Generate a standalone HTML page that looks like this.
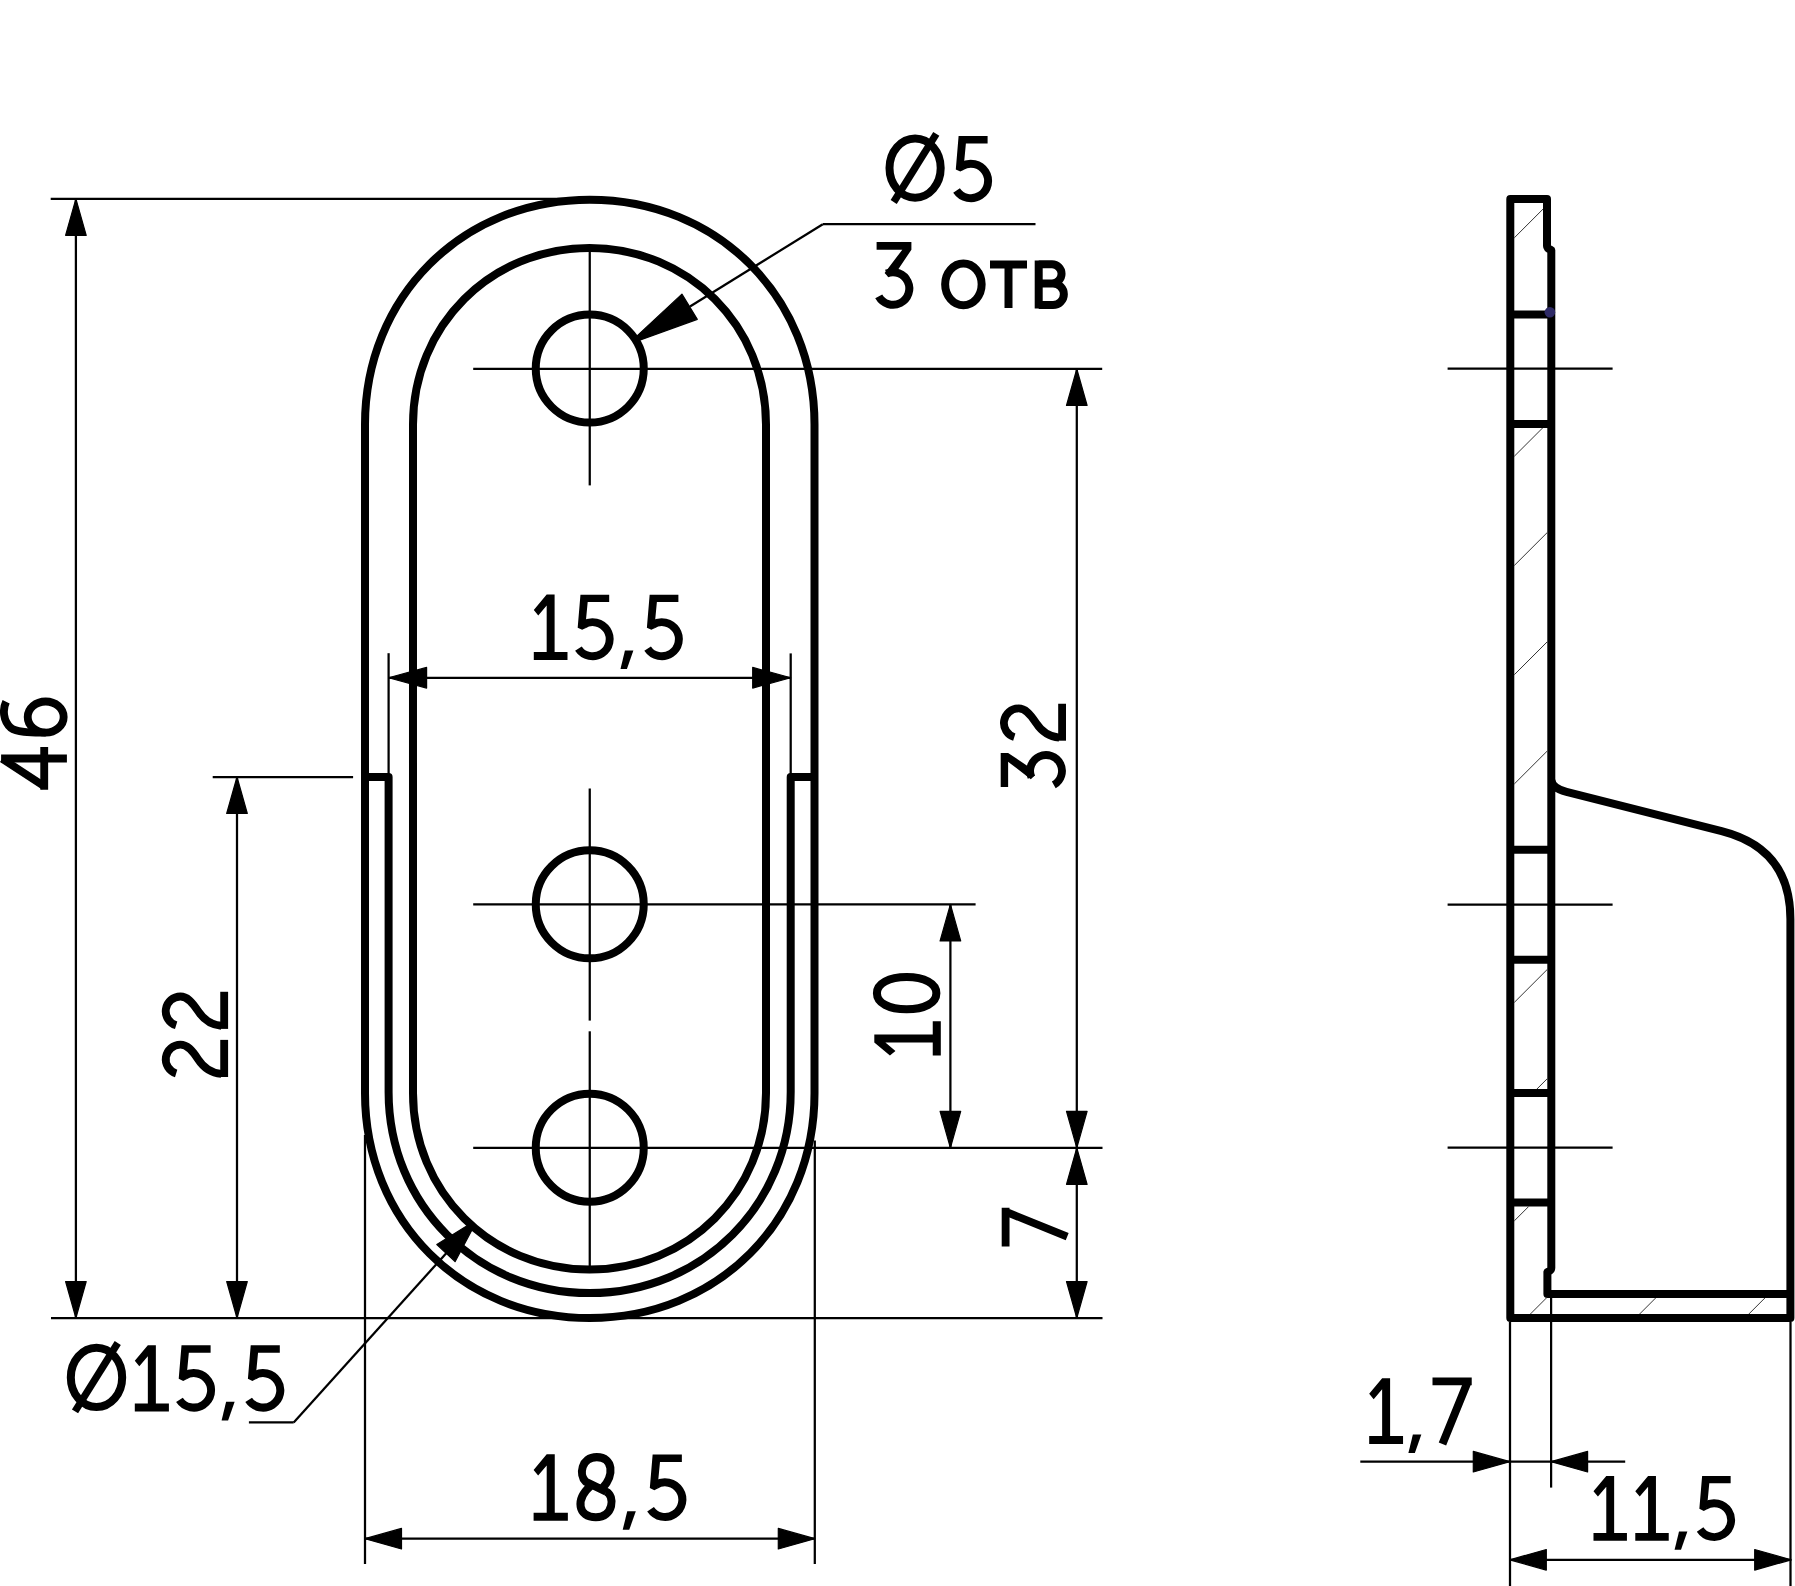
<!DOCTYPE html>
<html><head><meta charset="utf-8"><style>
html,body{margin:0;padding:0;background:#fff;font-family:"Liberation Sans",sans-serif;}
svg{display:block;}
.tk{fill:none;stroke:#000;stroke-width:8.0;}
.gs{fill:none;stroke:#000;stroke-width:8.0;}
.gf{fill:#000;stroke:none;}
</style></head><body>
<svg width="1795" height="1586" viewBox="0 0 1795 1586">
<rect x="0" y="0" width="1795" height="1586" fill="#fff"/>
<path d="M365.00,424.50 C365.00,296.84 462.09,199.75 589.75,199.75 C717.41,199.75 814.50,296.84 814.50,424.50 V1093.25 C814.50,1220.91 717.41,1318.00 589.75,1318.00 C462.09,1318.00 365.00,1220.91 365.00,1093.25 Z" class="tk"/>
<path d="M413.00,424.50 C413.00,325.66 490.66,248.00 589.50,248.00 C688.34,248.00 766.00,325.66 766.00,424.50 V1093.00 C766.00,1191.84 688.34,1269.50 589.50,1269.50 C490.66,1269.50 413.00,1191.84 413.00,1093.00 Z" class="tk"/>
<path d="M365,777 H388.60 V1092.00 C388.60,1204.59 477.06,1293.05 589.65,1293.05 C702.24,1293.05 790.70,1204.59 790.70,1092.00 V777 H814.5" class="tk" stroke-linejoin="round"/>
<circle cx="589.75" cy="368.6" r="54" class="tk"/>
<circle cx="589.75" cy="904.3" r="54" class="tk"/>
<circle cx="589.75" cy="1147.7" r="54" class="tk"/>
<line x1="589.75" y1="252.00" x2="589.75" y2="485.40" stroke="#000" stroke-width="2.25"/>
<line x1="473.20" y1="368.80" x2="1102.20" y2="368.80" stroke="#000" stroke-width="2.25"/>
<line x1="589.75" y1="788.50" x2="589.75" y2="1020.60" stroke="#000" stroke-width="2.25"/>
<line x1="589.75" y1="1031.30" x2="589.75" y2="1268.50" stroke="#000" stroke-width="2.25"/>
<line x1="473.20" y1="904.40" x2="975.60" y2="904.40" stroke="#000" stroke-width="2.25"/>
<line x1="473.20" y1="1147.90" x2="1102.50" y2="1147.90" stroke="#000" stroke-width="2.25"/>
<line x1="50.70" y1="198.80" x2="590.00" y2="198.80" stroke="#000" stroke-width="2.25"/>
<line x1="51.00" y1="1318.00" x2="1102.50" y2="1318.00" stroke="#000" stroke-width="2.25"/>
<line x1="75.90" y1="198.80" x2="75.90" y2="1318.00" stroke="#000" stroke-width="2.25"/>
<polygon points="75.90,198.80 86.20,235.30 65.60,235.30" fill="#000" stroke="#000" stroke-width="1.2" stroke-linejoin="round"/>
<polygon points="75.90,1318.00 65.60,1281.50 86.20,1281.50" fill="#000" stroke="#000" stroke-width="1.2" stroke-linejoin="round"/>
<line x1="212.70" y1="777.00" x2="353.10" y2="777.00" stroke="#000" stroke-width="2.25"/>
<line x1="237.00" y1="777.00" x2="237.00" y2="1318.00" stroke="#000" stroke-width="2.25"/>
<polygon points="237.00,777.00 247.30,813.50 226.70,813.50" fill="#000" stroke="#000" stroke-width="1.2" stroke-linejoin="round"/>
<polygon points="237.00,1318.00 226.70,1281.50 247.30,1281.50" fill="#000" stroke="#000" stroke-width="1.2" stroke-linejoin="round"/>
<line x1="388.60" y1="653.20" x2="388.60" y2="777.00" stroke="#000" stroke-width="2.25"/>
<line x1="790.70" y1="653.40" x2="790.70" y2="777.00" stroke="#000" stroke-width="2.25"/>
<line x1="388.60" y1="677.75" x2="790.70" y2="677.75" stroke="#000" stroke-width="2.25"/>
<polygon points="388.60,677.75 426.60,667.45 426.60,688.05" fill="#000" stroke="#000" stroke-width="1.2" stroke-linejoin="round"/>
<polygon points="790.70,677.75 752.70,688.05 752.70,667.45" fill="#000" stroke="#000" stroke-width="1.2" stroke-linejoin="round"/>
<line x1="365.00" y1="1135.00" x2="365.00" y2="1564.00" stroke="#000" stroke-width="2.25"/>
<line x1="814.80" y1="1140.50" x2="814.80" y2="1564.00" stroke="#000" stroke-width="2.25"/>
<line x1="365.00" y1="1538.70" x2="814.80" y2="1538.70" stroke="#000" stroke-width="2.25"/>
<polygon points="365.00,1538.70 401.50,1528.40 401.50,1549.00" fill="#000" stroke="#000" stroke-width="1.2" stroke-linejoin="round"/>
<polygon points="814.80,1538.70 778.30,1549.00 778.30,1528.40" fill="#000" stroke="#000" stroke-width="1.2" stroke-linejoin="round"/>
<line x1="1076.80" y1="369.00" x2="1076.80" y2="1318.00" stroke="#000" stroke-width="2.25"/>
<polygon points="1076.80,369.00 1087.10,405.50 1066.50,405.50" fill="#000" stroke="#000" stroke-width="1.2" stroke-linejoin="round"/>
<polygon points="1076.80,1147.80 1066.50,1111.30 1087.10,1111.30" fill="#000" stroke="#000" stroke-width="1.2" stroke-linejoin="round"/>
<polygon points="1076.80,1147.80 1087.10,1184.30 1066.50,1184.30" fill="#000" stroke="#000" stroke-width="1.2" stroke-linejoin="round"/>
<polygon points="1076.80,1318.00 1066.50,1281.50 1087.10,1281.50" fill="#000" stroke="#000" stroke-width="1.2" stroke-linejoin="round"/>
<line x1="950.40" y1="904.40" x2="950.40" y2="1147.80" stroke="#000" stroke-width="2.25"/>
<polygon points="950.40,904.40 960.70,940.90 940.10,940.90" fill="#000" stroke="#000" stroke-width="1.2" stroke-linejoin="round"/>
<polygon points="950.40,1147.80 940.10,1111.30 960.70,1111.30" fill="#000" stroke="#000" stroke-width="1.2" stroke-linejoin="round"/>
<polygon points="637.10,335.87 681.93,294.15 697.30,319.33 639.70,340.13" fill="#000" stroke="#000" stroke-width="1.2" stroke-linejoin="round"/>
<line x1="690.00" y1="306.50" x2="822.80" y2="224.20" stroke="#000" stroke-width="2.25"/>
<line x1="822.80" y1="224.20" x2="1035.50" y2="224.20" stroke="#000" stroke-width="2.25"/>
<polygon points="474.06,1225.97 455.06,1261.61 436.82,1244.52 471.14,1223.23" fill="#000" stroke="#000" stroke-width="1.2" stroke-linejoin="round"/>
<line x1="460.00" y1="1238.00" x2="293.70" y2="1422.40" stroke="#000" stroke-width="2.25"/>
<line x1="293.70" y1="1422.40" x2="248.90" y2="1422.40" stroke="#000" stroke-width="2.25"/>
<path d="M1551.3,779 Q1551.4,788 1566.5,791.8 L1721.6,831.1 Q1790.4,848.5 1790.4,918.9 V1318 H1510.3 V199 H1547 V246 Q1547,248.5 1551.3,250 V1268 Q1551.3,1270.5 1547.4,1272 V1294 H1790.4" class="tk" stroke-linejoin="round"/>
<line x1="1510.30" y1="314.40" x2="1551.30" y2="314.40" stroke="#000" stroke-width="8.0"/>
<line x1="1510.30" y1="424.10" x2="1551.30" y2="424.10" stroke="#000" stroke-width="8.0"/>
<line x1="1510.30" y1="849.80" x2="1551.30" y2="849.80" stroke="#000" stroke-width="8.0"/>
<line x1="1510.30" y1="959.70" x2="1551.30" y2="959.70" stroke="#000" stroke-width="8.0"/>
<line x1="1510.30" y1="1092.90" x2="1551.30" y2="1092.90" stroke="#000" stroke-width="8.0"/>
<line x1="1510.30" y1="1202.50" x2="1551.30" y2="1202.50" stroke="#000" stroke-width="8.0"/>
<circle cx="1549.9" cy="312.2" r="5.3" fill="#2e2a66"/>
<line x1="1447.60" y1="368.60" x2="1612.60" y2="368.60" stroke="#000" stroke-width="2.25"/>
<line x1="1447.60" y1="904.50" x2="1612.60" y2="904.50" stroke="#000" stroke-width="2.25"/>
<line x1="1447.60" y1="1147.70" x2="1612.60" y2="1147.70" stroke="#000" stroke-width="2.25"/>
<clipPath id="hc"><path d="M1514.3,203 H1543 V250 H1547.3 V310.4 H1514.3 Z M1514.3,428.1 H1547.3 V845.8 H1514.3 Z M1514.3,963.7 H1547.3 V1088.9 H1514.3 Z M1514.3,1206.5 H1547.3 V1314 H1514.3 Z M1514.3,1298 H1786.4 V1314 H1514.3 Z"/></clipPath>
<g clip-path="url(#hc)" stroke="#2a2a2a" stroke-width="0.95">
<line x1="1400" y1="242.87" x2="1900" y2="-257.13"/>
<line x1="1400" y1="352.10" x2="1900" y2="-147.90"/>
<line x1="1400" y1="461.33" x2="1900" y2="-38.67"/>
<line x1="1400" y1="570.56" x2="1900" y2="70.56"/>
<line x1="1400" y1="679.79" x2="1900" y2="179.79"/>
<line x1="1400" y1="789.02" x2="1900" y2="289.02"/>
<line x1="1400" y1="898.25" x2="1900" y2="398.25"/>
<line x1="1400" y1="1007.48" x2="1900" y2="507.48"/>
<line x1="1400" y1="1116.71" x2="1900" y2="616.71"/>
<line x1="1400" y1="1225.94" x2="1900" y2="725.94"/>
<line x1="1400" y1="1335.17" x2="1900" y2="835.17"/>
<line x1="1400" y1="1444.40" x2="1900" y2="944.40"/>
<line x1="1400" y1="1553.63" x2="1900" y2="1053.63"/>
<line x1="1400" y1="1662.86" x2="1900" y2="1162.86"/>
<line x1="1400" y1="1772.09" x2="1900" y2="1272.09"/>
</g>
<line x1="1510.00" y1="1322.00" x2="1510.00" y2="1586.00" stroke="#000" stroke-width="2.25"/>
<line x1="1551.10" y1="1297.00" x2="1551.10" y2="1487.60" stroke="#000" stroke-width="2.25"/>
<line x1="1790.50" y1="1322.00" x2="1790.50" y2="1586.00" stroke="#000" stroke-width="2.25"/>
<line x1="1360.30" y1="1461.70" x2="1625.20" y2="1461.70" stroke="#000" stroke-width="2.25"/>
<polygon points="1509.80,1461.70 1473.30,1472.00 1473.30,1451.40" fill="#000" stroke="#000" stroke-width="1.2" stroke-linejoin="round"/>
<polygon points="1551.10,1461.70 1587.60,1451.40 1587.60,1472.00" fill="#000" stroke="#000" stroke-width="1.2" stroke-linejoin="round"/>
<line x1="1509.80" y1="1559.80" x2="1791.20" y2="1559.80" stroke="#000" stroke-width="2.25"/>
<polygon points="1509.80,1559.80 1546.30,1549.50 1546.30,1570.10" fill="#000" stroke="#000" stroke-width="1.2" stroke-linejoin="round"/>
<polygon points="1791.20,1559.80 1754.70,1570.10 1754.70,1549.50" fill="#000" stroke="#000" stroke-width="1.2" stroke-linejoin="round"/>
<g transform="translate(885.10,135.00) scale(1.0000)"><ellipse cx="30" cy="33.1" rx="25.6" ry="29.55" class="gs"/><path d="M8.6,67 L51.2,-1.2" class="gs" style="stroke-width:7.2"/></g>
<g transform="translate(953.50,135.00) scale(1.0000)"><path d="M5.1,1.1 H34.1 V8.6 H12.4 L10.6,27.5 L9.6,33 L10.6,34.7 L6.8,36.6 L2.3,34.4 Z" class="gf"/><path d="M8.18,31.48 A17.2,17.2 0 1 1 3.04,55.47" class="gs"/></g>
<g transform="translate(873.80,241.90) scale(1.0000)"><path d="M2.8,0.2 H37.6 V7.8 L23,29.5 L14.5,35 L10.8,31 L28.5,7.8 H2.8 Z" class="gf"/><path d="M12.8,31.6 A16.3,16.3 0 1 1 4.94,54.5" class="gs"/></g>
<ellipse cx="963.4" cy="284.3" rx="18.25" ry="20.85" class="gs"/>
<path d="M990,264.6 H1027 M1008.5,264.6 V308" class="gs"/>
<path d="M1038.7,260.6 V308.5 M1038.7,264.3 H1052 A9.55,9.55 0 0 1 1052,283.4 H1038.7 M1038.7,283.4 H1053 A10.85,10.85 0 0 1 1053,305.1 H1038.7" class="gs"/>
<g transform="translate(533.30,593.60) scale(0.9910)"><path d="M13.5,1 H21.5 V59 H34.5 V67 H0.5 V59 H13.5 V12 L5,22 L0.5,16.5 Z" class="gf"/></g>
<g transform="translate(575.40,593.60) scale(0.9910)"><path d="M5.1,1.1 H34.1 V8.6 H12.4 L10.6,27.5 L9.6,33 L10.6,34.7 L6.8,36.6 L2.3,34.4 Z" class="gf"/><path d="M8.18,31.48 A17.2,17.2 0 1 1 3.04,55.47" class="gs"/></g>
<g transform="translate(620.00,593.60) scale(0.9910)"><path d="M5,57.5 H13.5 L7,76 H0.5 Z" class="gf"/></g>
<g transform="translate(644.60,593.60) scale(0.9910)"><path d="M5.1,1.1 H34.1 V8.6 H12.4 L10.6,27.5 L9.6,33 L10.6,34.7 L6.8,36.6 L2.3,34.4 Z" class="gf"/><path d="M8.18,31.48 A17.2,17.2 0 1 1 3.04,55.47" class="gs"/></g>
<g transform="translate(533.10,1453.30) scale(1.0075)"><path d="M13.5,1 H21.5 V59 H34.5 V67 H0.5 V59 H13.5 V12 L5,22 L0.5,16.5 Z" class="gf"/></g>
<g transform="translate(575.90,1453.30) scale(1.0075)"><path d="M30,38 L9.5,28 C3,21.5 5,3.8 20.75,3.8 C37.5,3.8 38,22 26.5,34.5 M30,38 C39,42 37.5,63.45 19.8,63.45 C2,63.45 -1,46 15,32" class="gs" stroke-linejoin="round"/></g>
<g transform="translate(622.20,1453.30) scale(1.0075)"><path d="M5,57.5 H13.5 L7,76 H0.5 Z" class="gf"/></g>
<g transform="translate(647.50,1453.30) scale(1.0075)"><path d="M5.1,1.1 H34.1 V8.6 H12.4 L10.6,27.5 L9.6,33 L10.6,34.7 L6.8,36.6 L2.3,34.4 Z" class="gf"/><path d="M8.18,31.48 A17.2,17.2 0 1 1 3.04,55.47" class="gs"/></g>
<g transform="translate(66.40,1344.20) scale(1.0030)"><ellipse cx="30" cy="33.1" rx="25.6" ry="29.55" class="gs"/><path d="M8.6,67 L51.2,-1.2" class="gs" style="stroke-width:7.2"/></g>
<g transform="translate(134.30,1344.20) scale(1.0030)"><path d="M13.5,1 H21.5 V59 H34.5 V67 H0.5 V59 H13.5 V12 L5,22 L0.5,16.5 Z" class="gf"/></g>
<g transform="translate(176.40,1344.20) scale(1.0030)"><path d="M5.1,1.1 H34.1 V8.6 H12.4 L10.6,27.5 L9.6,33 L10.6,34.7 L6.8,36.6 L2.3,34.4 Z" class="gf"/><path d="M8.18,31.48 A17.2,17.2 0 1 1 3.04,55.47" class="gs"/></g>
<g transform="translate(221.10,1344.20) scale(1.0030)"><path d="M5,57.5 H13.5 L7,76 H0.5 Z" class="gf"/></g>
<g transform="translate(245.60,1344.20) scale(1.0030)"><path d="M5.1,1.1 H34.1 V8.6 H12.4 L10.6,27.5 L9.6,33 L10.6,34.7 L6.8,36.6 L2.3,34.4 Z" class="gf"/><path d="M8.18,31.48 A17.2,17.2 0 1 1 3.04,55.47" class="gs"/></g>
<g transform="translate(1368.70,1377.30) scale(0.9955)"><path d="M13.5,1 H21.5 V59 H34.5 V67 H0.5 V59 H13.5 V12 L5,22 L0.5,16.5 Z" class="gf"/></g>
<g transform="translate(1407.90,1377.30) scale(0.9955)"><path d="M5,57.5 H13.5 L7,76 H0.5 Z" class="gf"/></g>
<g transform="translate(1432.50,1377.30) scale(0.9955)"><path d="M0,4.1 H39.4 M35.5,4.1 L10,67" class="gs"/></g>
<g transform="translate(1593.00,1474.90) scale(0.9836)"><path d="M13.5,1 H21.5 V59 H34.5 V67 H0.5 V59 H13.5 V12 L5,22 L0.5,16.5 Z" class="gf"/></g>
<g transform="translate(1634.80,1474.90) scale(0.9836)"><path d="M13.5,1 H21.5 V59 H34.5 V67 H0.5 V59 H13.5 V12 L5,22 L0.5,16.5 Z" class="gf"/></g>
<g transform="translate(1674.10,1474.90) scale(0.9836)"><path d="M5,57.5 H13.5 L7,76 H0.5 Z" class="gf"/></g>
<g transform="translate(1697.10,1474.90) scale(0.9836)"><path d="M5.1,1.1 H34.1 V8.6 H12.4 L10.6,27.5 L9.6,33 L10.6,34.7 L6.8,36.6 L2.3,34.4 Z" class="gf"/><path d="M8.18,31.48 A17.2,17.2 0 1 1 3.04,55.47" class="gs"/></g>
<g transform="translate(1.10,789.70) rotate(-90) scale(0.9821)"><path d="M31.8,0 V67 M0,43.9 H43.5" class="gs"/><path d="M31.5,1 L3.5,43.9" class="gs"/></g>
<g transform="translate(1.00,736.70) rotate(-90) scale(0.9821)"><path d="M35.6,5.2 C28,1.5 16,2 9,10 C4.5,16 4,28 4.2,45.5" class="gs"/><ellipse cx="20" cy="45.5" rx="15.85" ry="18.3" class="gs"/></g>
<g transform="translate(162.30,1077.00) rotate(-90) scale(0.9821)"><path d="M3.66,14.1 A15,15 0 0 1 33,18.5 C33,25 28,30 18,36.5 C8,43 4,51 3.2,60" class="gs"/><path d="M0,63 H37.8" class="gs"/></g>
<g transform="translate(162.30,1028.90) rotate(-90) scale(0.9821)"><path d="M3.66,14.1 A15,15 0 0 1 33,18.5 C33,25 28,30 18,36.5 C8,43 4,51 3.2,60" class="gs"/><path d="M0,63 H37.8" class="gs"/></g>
<g transform="translate(1000.50,789.70) rotate(-90) scale(0.9776)"><path d="M2.8,0.2 H37.6 V7.8 L23,29.5 L14.5,35 L10.8,31 L28.5,7.8 H2.8 Z" class="gf"/><path d="M12.8,31.6 A16.3,16.3 0 1 1 4.94,54.5" class="gs"/></g>
<g transform="translate(1000.50,740.70) rotate(-90) scale(0.9776)"><path d="M3.66,14.1 A15,15 0 0 1 33,18.5 C33,25 28,30 18,36.5 C8,43 4,51 3.2,60" class="gs"/><path d="M0,63 H37.8" class="gs"/></g>
<g transform="translate(873.30,1056.10) rotate(-90) scale(1.0075)"><path d="M13.5,1 H21.5 V59 H34.5 V67 H0.5 V59 H13.5 V12 L5,22 L0.5,16.5 Z" class="gf"/></g>
<g transform="translate(872.90,1013.30) rotate(-90) scale(1.0075)"><path d="M36,33.5 C36,51.20 29.60,63.0 20,63.0 C10.40,63.0 4,51.20 4,33.5 C4,15.80 10.40,4.0 20,4.0 C29.60,4.0 36,15.80 36,33.5 Z" class="gs"/></g>
<g transform="translate(1001.60,1246.40) rotate(-90) scale(0.9791)"><path d="M0,4.1 H39.4 M35.5,4.1 L10,67" class="gs"/></g>
</svg>
</body></html>
